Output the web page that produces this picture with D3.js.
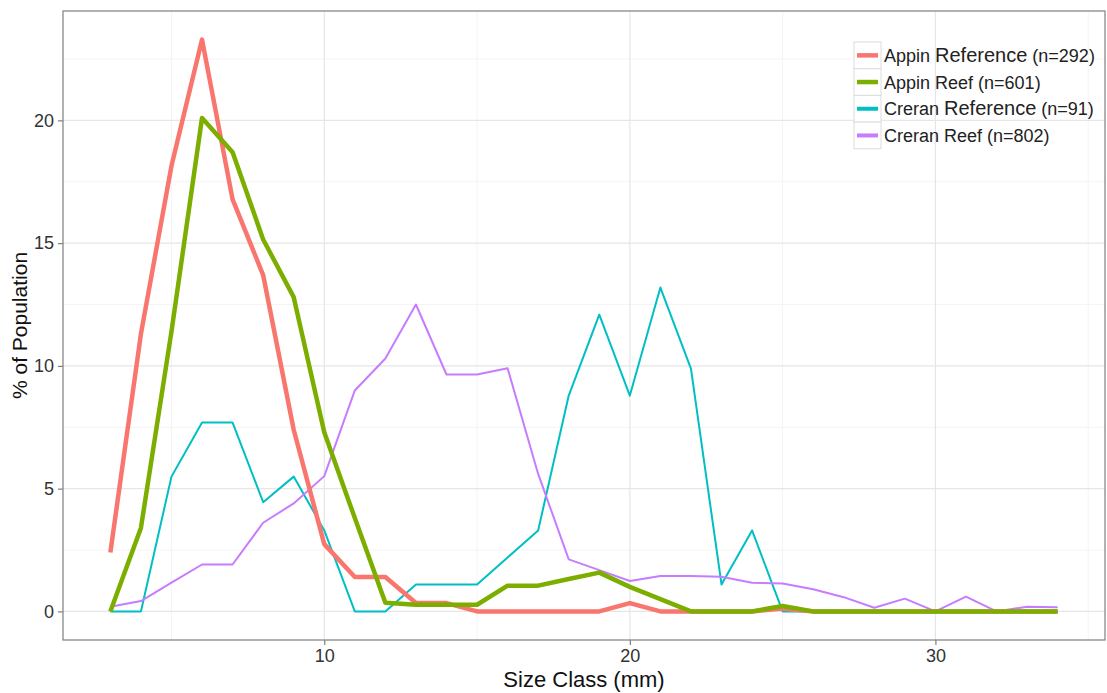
<!DOCTYPE html>
<html>
<head>
<meta charset="utf-8">
<script src="https://cdn.jsdelivr.net/npm/d3@7"></script>
<style>
  body { margin: 0; background: #fff; }
  text { font-family: "Liberation Sans", Arial, sans-serif; }
</style>
</head>
<body>
<div id="wrapper"></div>
<script>
// size classes (mm)
const sizeClass = [3, 4, 5, 6, 7, 8, 9, 10, 11, 12, 13, 14, 15, 16, 17, 18,
  19, 20, 21, 22, 23, 24, 25, 26, 27, 28, 29, 30, 31, 32, 33, 34];

// % of population
const appinReference = [2.4, 11.3, 18.15, 23.29, 16.78, 13.7, 7.4, 2.74, 1.4, 1.4, 0.34, 0.34, 0, 0, 0, 0,
  0, 0.34, 0, 0, 0, 0, 0.12, 0, 0, 0, 0, 0, 0, 0, 0, 0];
const appinReef = [0, 3.4, 11.4, 20.1, 18.7, 15.15, 12.8, 7.3, 3.8, 0.35, 0.27, 0.27, 0.27, 1.05, 1.05, 1.32,
  1.58, 1.0, 0.5, 0, 0, 0, 0.22, 0, 0, 0, 0, 0, 0, 0, 0, 0];
const creranReference = [0, 0, 5.49, 7.69, 7.69, 4.45, 5.49, 3.3, 0, 0, 1.1, 1.1, 1.1, 2.2, 3.3, 8.79,
  12.09, 8.79, 13.19, 9.89, 1.1, 3.3, 0, 0, 0, 0, 0, 0, 0, 0, 0, 0];
const creranReef = [0.19, 0.42, 1.17, 1.91, 1.91, 3.61, 4.4, 5.51, 9.0, 10.3, 12.5, 9.65, 9.65, 9.9, 5.6, 2.12,
  1.68, 1.24, 1.44, 1.44, 1.41, 1.17, 1.14, 0.9, 0.58, 0.15, 0.52, 0, 0.6, 0, 0.19, 0.17];

const xTicks = [10, 20, 30];
const yTicks = [0, 5, 10, 15, 20];

const seriesNames = ["Appin Reference", "Appin Reef", "Creran Reference", "Creran Reef"];
const seriesCounts = ["(n=292)", "(n=601)", "(n=91)", "(n=802)"];
const seriesColors = ["#F8766D", "#7CAE00", "#00BFC4", "#C77CFF"];
const seriesWidths = [4.5, 4.5, 2, 2];
const seriesValues = [appinReference, appinReef, creranReference, creranReef];
// thin lines underneath the thick ones
const drawOrder = [2, 3, 0, 1];

let dimensions = {
  width: 1107,
  height: 693,
  margin: { top: 11, right: 2, bottom: 53, left: 63 },
};
dimensions.boundedWidth = dimensions.width - dimensions.margin.left - dimensions.margin.right;
dimensions.boundedHeight = dimensions.height - dimensions.margin.top - dimensions.margin.bottom;

const svg = d3.select("#wrapper").append("svg")
  .attr("width", dimensions.width)
  .attr("height", dimensions.height);

const bounds = svg.append("g")
  .attr("transform", `translate(${dimensions.margin.left},${dimensions.margin.top})`);

const allValues = seriesValues.flat();
const xExt = d3.extent(sizeClass);
const yExt = [0, d3.max(allValues)];
const xPad = (xExt[1] - xExt[0]) * 0.05;
const yPad = (yExt[1] - yExt[0]) * 0.05;

const xScale = d3.scaleLinear()
  .domain([xExt[0] - xPad, xExt[1] + xPad])
  .range([0, dimensions.boundedWidth]);
const yScale = d3.scaleLinear()
  .domain([yExt[0] - yPad, yExt[1] + yPad])
  .range([dimensions.boundedHeight, 0]);

// grid: minor first, then major
const xMinor = [5, 15, 25, 35];
const yMinor = [2.5, 7.5, 12.5, 17.5, 22.5];
bounds.selectAll(".xminor").data(xMinor).join("line")
  .attr("x1", d => xScale(d)).attr("x2", d => xScale(d))
  .attr("y1", 0).attr("y2", dimensions.boundedHeight)
  .attr("stroke", "#f4f4f4").attr("stroke-width", 1);
bounds.selectAll(".yminor").data(yMinor).join("line")
  .attr("x1", 0).attr("x2", dimensions.boundedWidth)
  .attr("y1", d => yScale(d)).attr("y2", d => yScale(d))
  .attr("stroke", "#f4f4f4").attr("stroke-width", 1);
bounds.selectAll(".xmajor").data(xTicks).join("line")
  .attr("x1", d => xScale(d)).attr("x2", d => xScale(d))
  .attr("y1", 0).attr("y2", dimensions.boundedHeight)
  .attr("stroke", "#e6e6e6").attr("stroke-width", 1.2);
bounds.selectAll(".ymajor").data(yTicks).join("line")
  .attr("x1", 0).attr("x2", dimensions.boundedWidth)
  .attr("y1", d => yScale(d)).attr("y2", d => yScale(d))
  .attr("stroke", "#e6e6e6").attr("stroke-width", 1.2);

const lineGenerator = values => d3.line()
  .x((d, i) => xScale(sizeClass[i]))
  .y(d => yScale(d))(values);

drawOrder.forEach(k => {
  bounds.append("path")
    .attr("d", lineGenerator(seriesValues[k]))
    .attr("fill", "none")
    .attr("stroke", seriesColors[k])
    .attr("stroke-width", seriesWidths[k])
    .attr("stroke-linejoin", "round")
    .attr("stroke-linecap", "butt");
});

// panel border
bounds.append("rect")
  .attr("x", 0).attr("y", 0)
  .attr("width", dimensions.boundedWidth)
  .attr("height", dimensions.boundedHeight)
  .attr("fill", "none")
  .attr("stroke", "#7f7f7f")
  .attr("stroke-width", 1.2);

// axes
const yAxis = bounds.append("g")
  .call(d3.axisLeft(yScale).tickValues(yTicks).tickSize(5).tickPadding(4));
const xAxis = bounds.append("g")
  .attr("transform", `translate(0,${dimensions.boundedHeight})`)
  .call(d3.axisBottom(xScale).tickValues(xTicks).tickSize(5).tickPadding(4));
[xAxis, yAxis].forEach(ax => {
  ax.select(".domain").remove();
  ax.selectAll(".tick line").attr("stroke", "#7f7f7f").attr("stroke-width", 1.2);
  ax.selectAll(".tick text")
    .attr("fill", "#333")
    .style("font-size", "18px")
    .style("font-family", "'Liberation Sans', Arial, sans-serif");
});

// axis titles
svg.append("text")
  .attr("x", dimensions.margin.left + dimensions.boundedWidth / 2)
  .attr("y", 687)
  .attr("text-anchor", "middle")
  .style("font-size", "22px")
  .attr("fill", "#111")
  .text("Size Class (mm)");

svg.append("text")
  .attr("transform", `translate(27,${dimensions.margin.top + dimensions.boundedHeight / 2}) rotate(-90)`)
  .attr("text-anchor", "middle")
  .style("font-size", "21px")
  .attr("fill", "#111")
  .text("% of Population");

// legend
const legend = svg.append("g").attr("transform", "translate(854,42)");
const keySize = 26.7;
seriesNames.forEach((name, i) => {
  const row = legend.append("g").attr("transform", `translate(0,${i * keySize})`);
  row.append("rect")
    .attr("x", 0).attr("y", 0)
    .attr("width", 27).attr("height", keySize)
    .attr("fill", "#fff")
    .attr("stroke", "#dcdcdc")
    .attr("stroke-width", 1);
  row.append("line")
    .attr("x1", 3).attr("x2", 24)
    .attr("y1", keySize / 2).attr("y2", keySize / 2)
    .attr("stroke", seriesColors[i])
    .attr("stroke-width", seriesWidths[i] === 2 ? 4 : 4.5);
  const label = row.append("text")
    .attr("x", 30)
    .attr("y", keySize / 2 + 6.5)
    .attr("fill", "#222")
    .style("font-size", "18px");
  const words = name.split(" ");
  label.append("tspan").text(words[0] + " ");
  label.append("tspan")
    .style("font-size", words[1] === "Reference" ? "20px" : "18px")
    .text(words[1]);
  label.append("tspan").text(" " + seriesCounts[i]);
});
</script>
</body>
</html>
